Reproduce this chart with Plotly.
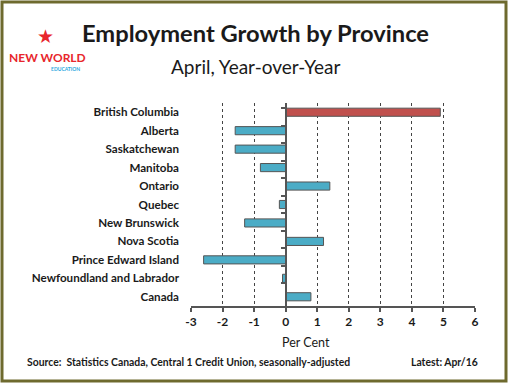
import plotly.graph_objects as go

provinces = ["British Columbia", "Alberta", "Saskatchewan", "Manitoba", "Ontario",
             "Quebec", "New Brunswick", "Nova Scotia", "Prince Edward Island",
             "Newfoundland and Labrador", "Canada"]
growth = [4.9, -1.6, -1.6, -0.8, 1.4, -0.2, -1.3, 1.2, -2.6, -0.1, 0.8]
bar_colors = ["#C0504D"] + ["#4BACC6"] * 10
x_ticks = [-3, -2, -1, 0, 1, 2, 3, 4, 5, 6]

W, H = 512, 385
L, R, T, B = 191, 37, 103, 79
pw, ph = W - L - R, H - T - B
FONT = "Lato"
DARK = "#1a1a1a"

fig = go.Figure()
fig.add_trace(go.Bar(
    y=provinces, x=growth, orientation="h",
    marker=dict(color=bar_colors, line=dict(color="#555555", width=1)),
    hoverinfo="x+y", showlegend=False,
))
# invisible trace to carry the zero axis with category-boundary ticks
fig.add_trace(go.Scatter(
    y=provinces, x=[0] * len(provinces), yaxis="y2", mode="markers",
    marker=dict(opacity=0), hoverinfo="skip", showlegend=False,
))

fig.update_layout(
    width=W, height=H,
    margin=dict(l=L, r=R, t=T, b=B, pad=0),
    paper_bgcolor="white", plot_bgcolor="white",
    bargap=0.56,
    font=dict(family=FONT, color=DARK),
    xaxis=dict(
        range=[-3, 6], tickvals=x_ticks, ticktext=[str(v) for v in x_ticks],
        showgrid=True, gridcolor="#444444", griddash="dot", gridwidth=1,
        zeroline=False, showline=True, linecolor="#555555", linewidth=1.5,
        ticks="outside", ticklen=4, tickcolor="#555555", tickwidth=1.5,
        tickfont=dict(family=FONT, size=12, color=DARK, weight="bold"),
        fixedrange=True,
    ),
    yaxis=dict(
        type="category", categoryorder="array", categoryarray=provinces,
        autorange="reversed", showgrid=False, zeroline=False, showline=False,
        ticks="", ticklabelstandoff=11,
        tickfont=dict(family=FONT, size=11.6, color=DARK, weight="bold"),
        fixedrange=True,
    ),
    yaxis2=dict(
        type="category", categoryorder="array", categoryarray=provinces,
        overlaying="y", anchor="free", position=1 / 3, side="left",
        autorange="reversed", showgrid=False, zeroline=False,
        showline=True, linecolor="#555555", linewidth=1.5,
        tickson="boundaries", ticks="outside", ticklen=4, tickcolor="#555555", tickwidth=1.5,
        showticklabels=False, fixedrange=True,
    ),
)

def px_x(x):
    return (x - L) / pw

def px_y(y):
    return 1 - (y - T) / ph

# outer olive frame
fig.add_shape(type="rect", xref="paper", yref="paper",
              x0=px_x(2), x1=px_x(506), y0=px_y(381), y1=px_y(2),
              line=dict(color="#6E6A2E", width=3), layer="above")

ann = [
    dict(text="<b>Employment Growth by Province</b>", x=255, y=33, size=23.7, color=DARK, xanchor="center"),
    dict(text="April, Year-over-Year", x=255, y=66, size=19, color=DARK, xanchor="center"),
    dict(text="Per Cent", x=306, y=342, size=12.5, color=DARK, xanchor="center"),
    dict(text="<b>Source:  Statistics Canada, Central 1 Credit Union, seasonally-adjusted</b>",
         x=25, y=362, size=10.4, color=DARK, xanchor="left"),
    dict(text="<b>Latest: Apr/16</b>", x=480, y=362, size=10.4, color=DARK, xanchor="right"),
    dict(text="<b>NEW WORLD</b>", x=47, y=57, size=12, color="#E8262C", xanchor="center"),
    dict(text="<b>EDUCATION</b>", x=65, y=69, size=5, color="#2AA7E0", xanchor="center"),
    dict(text="★", x=45, y=35, size=19, color="#E8262C", xanchor="center"),
]
for a in ann:
    fig.add_annotation(text=a["text"], x=px_x(a["x"]), y=px_y(a["y"]),
                       xref="paper", yref="paper", xanchor=a["xanchor"], yanchor="middle",
                       showarrow=False, font=dict(family=FONT, size=a["size"], color=a["color"]))

fig.write_html("out.html", config={"displayModeBar": False},
               post_script="document.body.style.margin='0';document.body.style.overflow='hidden';")
